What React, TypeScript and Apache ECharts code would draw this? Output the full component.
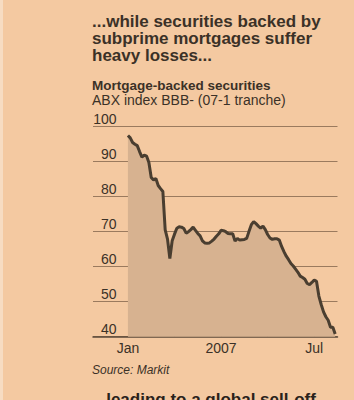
import React, { useEffect, useRef } from "react";
import * as echarts from "echarts";

// ABX index BBB- (07-1 tranche), sampled at even steps from the Jan tick to the end of the series
const abxValues: number[] = [
  97.5, 96.8, 95.5, 95.0, 94.6, 92.9, 91.3, 91.9, 91.6, 89.8,
  85.5, 84.8, 85.2, 83.2, 82.3, 81.5, 70.5, 67.9, 62.3, 67.4,
  69.3, 71.0, 71.4, 71.3, 70.9, 69.6, 70.0, 70.6, 71.3, 70.4,
  69.5, 68.8, 67.4, 66.8, 66.7, 66.8, 67.3, 67.9, 68.7, 69.4,
  70.4, 70.3, 70.0, 69.5, 69.4, 69.4, 67.3, 68.1, 67.6, 67.7,
  67.8, 68.1, 70.1, 72.0, 72.9, 72.3, 71.6, 71.0, 71.6, 70.6,
  69.2, 68.2, 67.8, 68.0, 68.0, 67.6, 65.8, 64.3, 63.0, 62.0,
  60.9, 60.2, 59.3, 58.4, 57.3, 56.9, 56.4, 55.2, 54.9, 55.5,
  56.2, 55.8, 51.6, 49.2, 47.1, 45.7, 44.7, 42.7, 42.7, 40.8,
];

// Empty steps before the Jan tick and after the last value
const leadingSteps = 15;
const trailingSteps = 1;

// Tick positions (in steps) and their labels
const tickSteps: number[] = [15, 35, 55, 75, 95];
const tickLabels: string[] = ["Jan", "", "2007", "", "Jul"];

const yMin = 40;
const yMax = 100;
const yInterval = 10;

const headlineLines: string[] = [
  "...while securities backed by",
  "subprime mortgages suffer",
  "heavy losses...",
];
const chartTitle = "Mortgage-backed securities";
const chartSubtitle = "ABX index BBB- (07-1 tranche)";
const sourceText = "Source: Markit";
const nextHeadline = "...leading to a global sell-off";

const FONT = "'Liberation Sans', Arial, sans-serif";
const BG = "#f4c9a1";
const INK = "#3b3127";

export default function App() {
  const ref = useRef<HTMLDivElement>(null);

  useEffect(() => {
    document.body.style.margin = "0";
    if (!ref.current) return;
    const chart = echarts.init(ref.current, undefined, { renderer: "svg" });

    const seriesData: (number | null)[] = [
      ...Array(leadingSteps).fill(null),
      ...abxValues,
      ...Array(trailingSteps).fill(null),
    ];
    const categories = seriesData.map((_, i) => String(i));

    const labelFor = (idx: number) => {
      const k = tickSteps.indexOf(idx);
      return k >= 0 ? tickLabels[k] : "";
    };

    const headlineGraphics = headlineLines.map((t, i) => ({
      type: "text",
      x: 92,
      y: 21.2 + i * 17.2,
      style: {
        text: t,
        fill: INK,
        font: `bold 17px ${FONT}`,
        verticalAlign: "middle",
        align: "left",
      },
    }));

    chart.setOption({
      animation: false,
      backgroundColor: BG,
      grid: { left: 93, right: 16.5, top: 126.7, bottom: 63.3, containLabel: false },
      xAxis: {
        type: "category",
        data: categories,
        boundaryGap: false,
        axisLine: { show: true, lineStyle: { color: "#5a4838", width: 1.5 } },
        axisTick: {
          show: true,
          inside: true,
          length: 9,
          interval: (idx: number) => tickSteps.includes(idx),
          lineStyle: { color: "#5a4838", width: 1 },
        },
        axisLabel: {
          show: true,
          interval: (idx: number) => tickSteps.includes(idx),
          formatter: (_v: string, idx: number) => labelFor(idx),
          color: INK,
          fontSize: 14,
          fontFamily: FONT,
          margin: 4,
        },
        splitLine: { show: false },
      },
      yAxis: {
        type: "value",
        min: yMin,
        max: yMax,
        interval: yInterval,
        axisLine: { show: false },
        axisTick: { show: false },
        axisLabel: {
          inside: true,
          align: "right",
          verticalAlign: "bottom",
          margin: 23.5,
          color: INK,
          fontSize: 14,
          fontFamily: FONT,
          padding: [0, 0, 1, 0],
        },
        splitLine: { show: true, lineStyle: { color: "#9a7a5e", width: 1 } },
      },
      series: [
        {
          type: "line",
          data: seriesData,
          showSymbol: false,
          symbol: "none",
          connectNulls: false,
          lineStyle: { color: "#4a3e30", width: 3 },
          areaStyle: { color: "#d7b290", opacity: 1 },
          z: 3,
        },
      ],
      graphic: [
        {
          type: "rect",
          shape: { x: 0, y: 0, width: 3, height: 400 },
          style: { fill: "#f7dcc2" },
          silent: true,
        },
        ...headlineGraphics,
        {
          type: "text",
          x: 92,
          y: 85.3,
          style: {
            text: chartTitle,
            fill: INK,
            font: `bold 13.5px ${FONT}`,
            verticalAlign: "middle",
            align: "left",
          },
        },
        {
          type: "text",
          x: 92,
          y: 100.2,
          style: {
            text: chartSubtitle,
            fill: INK,
            font: `14px ${FONT}`,
            verticalAlign: "middle",
            align: "left",
          },
        },
        {
          type: "text",
          x: 92,
          y: 369.8,
          style: {
            text: sourceText,
            fill: INK,
            font: `italic 12px ${FONT}`,
            verticalAlign: "middle",
            align: "left",
          },
        },
        {
          type: "text",
          x: 92,
          y: 399.1,
          style: {
            text: nextHeadline,
            fill: "#2a221b",
            font: `bold 17px ${FONT}`,
            verticalAlign: "middle",
            align: "left",
          },
        },
      ],
    });

    return () => chart.dispose();
  }, []);

  return <div ref={ref} style={{ width: 354, height: 400 }} />;
}
